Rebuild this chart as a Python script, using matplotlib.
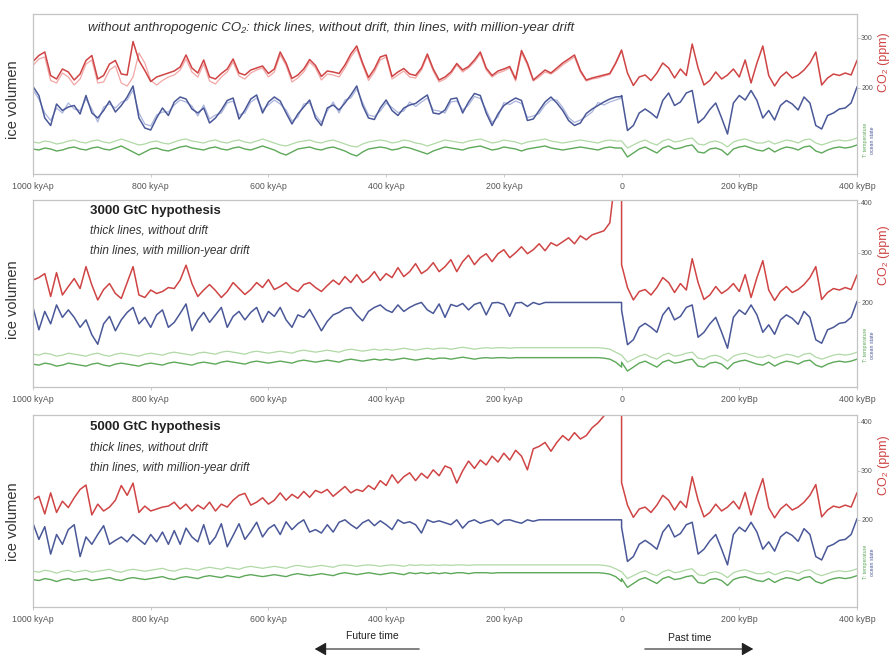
import numpy as np
import matplotlib
matplotlib.use("Agg")
import matplotlib.pyplot as plt

plt.rcParams['font.family'] = ['Liberation Sans Narrow', 'Liberation Sans', 'DejaVu Sans']

# ---------------- data ----------------
# time axis: negative = future (kyr after present), positive = past (kyr before present)
future_kyr = np.arange(-1000, 1, 10)
past_kyr = np.arange(0, 401, 10)

tick_pos = [-1000, -800, -600, -400, -200, 0, 200, 400]
tick_labels = ["1000 kyAp", "800 kyAp", "600 kyAp", "400 kyAp", "200 kyAp", "0", "200 kyBp", "400 kyBp"]

# past (shared by all panels) -- CO2 in ppm, ocean state / temperature in the same plotting units
red_past = [276, 230, 205, 222, 226, 215, 230, 250, 240, 220,
            238, 225, 288, 240, 206, 215, 232, 218, 226, 238,
            222, 256, 210, 250, 284, 225, 204, 222, 232, 220,
            226, 236, 250, 272, 206, 220, 228, 225, 230, 226,
            255]
blue_past = [185, 115, 125, 150, 158, 150, 140, 175, 190, 165,
             172, 190, 195, 130, 140, 157, 170, 140, 108, 170,
             185, 176, 195, 175, 140, 155, 136, 165, 175, 168,
             156, 182, 170, 125, 118, 145, 150, 158, 160, 170,
             202]
green_past = [80, 62, 70, 78, 82, 76, 70, 80, 84, 78,
              80, 84, 86, 72, 70, 78, 80, 76, 66, 78,
              82, 84, 80, 76, 74, 80, 72, 78, 82, 80,
              76, 82, 84, 74, 70, 76, 80, 82, 80, 82,
              86]
green_past_thin = [94, 80, 86, 92, 96, 90, 86, 94, 98, 92,
                   94, 98, 100, 88, 86, 92, 94, 90, 82, 92,
                   96, 98, 94, 90, 90, 94, 88, 92, 96, 94,
                   90, 96, 98, 90, 86, 90, 94, 96, 94, 96,
                   100]

# future without anthropogenic CO2
red_nat = [253, 265, 272, 225, 218, 238, 232, 216, 228, 255,
           265, 218, 225, 248, 255, 228, 226, 293, 255, 235,
           213, 222, 226, 230, 234, 242, 266, 240, 230, 256,
           222, 218, 229, 238, 258, 230, 226, 236, 240, 244,
           229, 238, 272, 250, 219, 226, 238, 257, 245, 223,
           234, 232, 229, 246, 268, 284, 250, 221, 238, 262,
           266, 223, 232, 239, 228, 225, 240, 268, 238, 216,
           222, 232, 249, 236, 243, 256, 272, 240, 225, 234,
           238, 243, 218, 275, 250, 216, 226, 236, 230, 240,
           250, 258, 266, 235, 216, 220, 223, 226, 229, 250,
           276]
red_nat_thin = [245, 258, 262, 215, 210, 230, 222, 206, 218, 248,
                256, 210, 212, 236, 244, 210, 204, 222, 270, 250,
                215, 206, 215, 222, 226, 236, 258, 232, 222, 248,
                214, 208, 222, 232, 252, 224, 218, 230, 236, 240,
                222, 232, 266, 245, 212, 220, 232, 252, 240, 216,
                228, 226, 222, 240, 262, 278, 246, 215, 232, 256,
                262, 218, 226, 234, 222, 220, 236, 264, 234, 212,
                218, 228, 246, 232, 240, 252, 268, 236, 222, 230,
                234, 240, 214, 270, 246, 214, 222, 232, 228, 236,
                246, 254, 262, 232, 214, 218, 220, 224, 227, 248,
                274]
blue_nat = [203, 185, 140, 125, 168, 155, 162, 165, 148, 185,
            150, 140, 155, 174, 152, 165, 182, 204, 140, 120,
            116, 140, 160, 145, 172, 182, 178, 158, 150, 160,
            130, 140, 156, 175, 180, 138, 156, 178, 186, 150,
            172, 182, 174, 150, 128, 148, 162, 176, 140, 125,
            160, 166, 156, 170, 186, 204, 165, 140, 137, 160,
            176, 155, 145, 160, 166, 169, 178, 186, 150, 148,
            156, 178, 180, 150, 172, 189, 185, 150, 125, 148,
            165, 173, 180, 175, 135, 138, 155, 172, 182, 170,
            155, 135, 125, 130, 149, 158, 165, 172, 178, 182,
            183]
blue_nat_thin = [196, 178, 150, 135, 160, 150, 170, 158, 155, 178,
                 158, 132, 162, 168, 160, 172, 176, 196, 150, 128,
                 124, 146, 152, 152, 166, 176, 172, 164, 144, 166,
                 138, 146, 150, 170, 174, 146, 150, 172, 180, 156,
                 166, 176, 168, 156, 134, 142, 168, 170, 146, 131,
                 154, 172, 150, 176, 180, 198, 171, 146, 143, 154,
                 170, 161, 151, 154, 172, 163, 172, 180, 156, 154,
                 150, 172, 174, 156, 166, 183, 179, 156, 131, 142,
                 171, 167, 174, 169, 141, 144, 149, 166, 176, 176,
                 161, 141, 131, 136, 143, 152, 171, 166, 172, 176,
                 180]
green_nat = [78, 76, 80, 78, 74, 76, 80, 82, 78, 76,
             80, 82, 78, 76, 80, 84, 78, 72, 66, 72,
             78, 80, 76, 74, 78, 82, 84, 80, 78, 76,
             80, 82, 78, 76, 80, 82, 78, 76, 80, 84,
             80, 76, 70, 66, 72, 78, 80, 82, 78, 76,
             80, 82, 78, 74, 68, 64, 72, 78, 80, 82,
             80, 76, 78, 82, 80, 76, 72, 68, 74, 78,
             82, 80, 78, 76, 80, 82, 84, 80, 76, 78,
             82, 80, 78, 74, 78, 80, 82, 84, 80, 78,
             76, 78, 80, 82, 80, 78, 76, 80, 82, 80,
             80]
green_nat_thin = [92, 90, 94, 92, 88, 90, 94, 96, 92, 90,
                  94, 96, 92, 90, 94, 98, 94, 90, 86, 88,
                  92, 94, 90, 88, 92, 96, 98, 94, 92, 90,
                  94, 96, 92, 90, 94, 96, 92, 90, 94, 98,
                  94, 90, 86, 84, 88, 92, 94, 96, 92, 90,
                  94, 96, 92, 88, 84, 82, 88, 92, 94, 96,
                  94, 90, 92, 96, 94, 90, 88, 84, 88, 92,
                  96, 94, 92, 90, 94, 96, 98, 94, 90, 92,
                  96, 94, 92, 88, 92, 94, 96, 98, 94, 92,
                  90, 92, 94, 96, 94, 92, 90, 94, 96, 94,
                  94]

# future, 3000 GtC hypothesis
red_3000 = [245, 250, 258, 212, 260, 215, 232, 248, 228, 272,
            235, 205, 226, 238, 218, 208, 240, 272, 215, 210,
            225, 218, 222, 230, 228, 245, 275, 238, 212, 225,
            236, 224, 210, 222, 240, 228, 216, 226, 240, 230,
            246, 226, 232, 240, 228, 222, 236, 240, 230, 222,
            234, 245, 236, 252, 240, 256, 240, 248, 262, 244,
            258, 250, 270, 252, 262, 278, 258, 266, 280, 262,
            272, 286, 262, 282, 295, 276, 290, 298, 282, 298,
            306, 290, 300, 312, 298, 306, 318, 304, 320, 314,
            322, 330, 318, 334, 326, 336, 340, 344, 360, 460,
            480]
blue_3000 = [190, 145, 182, 157, 195, 170, 185, 170, 150, 165,
             135, 116, 157, 172, 143, 165, 180, 190, 157, 170,
             150, 175, 185, 150, 160, 178, 197, 143, 165, 180,
             160, 175, 190, 150, 172, 182, 165, 180, 190, 160,
             182, 172, 190, 165, 150, 175, 170, 186, 165, 143,
             162, 175, 180, 188, 190, 175, 163, 182, 190, 195,
             185, 180, 195, 182, 190, 196, 200, 185, 178, 197,
             170, 196, 192, 198, 185, 196, 200, 175, 199, 200,
             196, 172, 199, 200, 192, 200, 196, 200, 200, 200,
             200, 200, 200, 200, 200, 200, 200, 200, 200, 200,
             200]
green_3000 = [76, 74, 78, 76, 72, 74, 78, 76, 74, 72,
              76, 78, 74, 72, 76, 78, 76, 74, 72, 76,
              78, 76, 74, 78, 80, 78, 76, 74, 78, 80,
              78, 76, 80, 82, 80, 78, 76, 80, 82, 80,
              78, 80, 82, 80, 78, 82, 84, 82, 80, 82,
              84, 82, 80, 84, 86, 84, 82, 84, 86, 84,
              86, 84, 86, 88, 86, 84, 86, 88, 86, 88,
              88, 86, 88, 90, 88, 86, 88, 89, 88, 89,
              89, 88, 89, 89, 89, 89, 89, 89, 89, 89,
              89, 89, 89, 89, 89, 89, 89, 88, 86, 80,
              70]
green_3000_thin = [96, 94, 98, 96, 92, 94, 98, 96, 94, 92,
                   96, 98, 94, 92, 96, 98, 96, 94, 92, 96,
                   98, 96, 94, 98, 100, 98, 96, 94, 98, 100,
                   98, 96, 100, 102, 100, 98, 96, 100, 102, 100,
                   98, 100, 102, 100, 98, 102, 104, 102, 100, 102,
                   104, 102, 100, 104, 106, 104, 102, 104, 106, 104,
                   106, 104, 106, 108, 106, 104, 106, 108, 106, 108,
                   108, 106, 108, 110, 108, 106, 108, 109, 108, 109,
                   109, 108, 109, 109, 109, 109, 109, 109, 109, 109,
                   109, 109, 109, 109, 109, 109, 109, 108, 106, 100,
                   94]

# future, 5000 GtC hypothesis
red_5000 = [241, 248, 212, 255, 215, 238, 225, 245, 262, 271,
            210, 232, 218, 226, 240, 270, 250, 275, 215, 228,
            218, 222, 226, 228, 236, 222, 232, 218, 230, 222,
            236, 218, 232, 226, 240, 250, 254, 230, 236, 245,
            232, 240, 255, 240, 252, 244, 258, 246, 260, 255,
            262, 248, 258, 268, 255, 262, 258, 270, 262, 280,
            270, 292, 275, 288, 296, 280, 295, 285, 302, 290,
            310, 305, 275, 300, 320, 305, 322, 312, 330, 318,
            336, 322, 342, 330, 302, 345, 350, 358, 340, 358,
            372, 362, 378, 365, 372, 388, 398, 412, 440, 480,
            500]
blue_5000 = [193, 160, 186, 130, 170, 150, 180, 190, 125, 165,
             150, 170, 188, 150, 158, 165, 155, 170, 160, 150,
             170, 155, 175, 150, 178, 150, 183, 165, 155, 190,
             150, 165, 192, 145, 168, 192, 160, 176, 195, 165,
             182, 190, 170, 196, 180, 192, 200, 175, 180, 173,
             190, 175, 195, 200, 190, 182, 194, 200, 188, 198,
             190, 180, 200, 193, 196, 190, 173, 200, 195, 198,
             194, 190, 200, 183, 196, 200, 193, 197, 200, 190,
             199, 200, 196, 193, 200, 197, 200, 200, 200, 200,
             200, 200, 200, 200, 200, 200, 200, 200, 200, 200,
             200]
green_5000 = [78, 76, 80, 78, 74, 78, 80, 76, 78, 80,
              76, 78, 80, 82, 78, 76, 80, 82, 80, 78,
              80, 82, 84, 80, 78, 82, 84, 82, 80, 84,
              86, 84, 82, 86, 84, 82, 86, 88, 86, 84,
              86, 88, 86, 84, 88, 90, 88, 86, 88, 90,
              88, 86, 90, 92, 90, 88, 90, 92, 90, 88,
              90, 92, 90, 88, 92, 90, 92, 90, 92, 90,
              92, 90, 92, 92, 90, 92, 92, 92, 91, 92,
              92, 92, 92, 92, 92, 92, 92, 92, 92, 92,
              92, 92, 92, 92, 92, 92, 92, 91, 89, 84,
              74]
green_5000_thin = [95, 93, 97, 95, 91, 95, 97, 93, 95, 97,
                   93, 95, 97, 99, 95, 93, 97, 99, 97, 95,
                   97, 99, 101, 97, 95, 99, 101, 99, 97, 101,
                   103, 101, 99, 103, 101, 99, 103, 105, 103, 101,
                   103, 105, 103, 101, 105, 107, 105, 103, 105, 107,
                   105, 103, 107, 108, 107, 105, 107, 108, 107, 105,
                   107, 108, 107, 105, 108, 107, 108, 107, 108, 107,
                   108, 107, 108, 108, 107, 108, 108, 108, 108, 108,
                   108, 108, 108, 108, 108, 108, 108, 108, 108, 108,
                   108, 108, 108, 108, 108, 108, 108, 107, 105, 100,
                   94]

# ---------------- styling ----------------
RED, RED_T = "#cf4444", "#f2a6a6"
BLUE, BLUE_T = "#4a5898", "#aab4dc"
GREEN, GREEN_T = "#5ea85a", "#b0d9a6"
FRAME = "#c4c4c4"
TXT = "#333333"

fig = plt.figure(figsize=(8.91, 6.56), dpi=100)
W, H = 891.0, 656.0
L, R = 33 / W, 857 / W

def add_ax(top_px, bot_px):
    return fig.add_axes([L, 1 - bot_px / H, R - L, (bot_px - top_px) / H])

all_kyr = np.concatenate([future_kyr, past_kyr])

def joined(fut, past):
    return np.concatenate([np.asarray(fut, float), np.asarray(past, float)])

panels = [
    dict(box=(14, 174), ylim=(28, 348), yt=[200, 300],
         fut=(red_nat, blue_nat, green_nat, green_nat_thin),
         thin=(red_nat_thin, blue_nat_thin)),
    dict(box=(200, 387), ylim=(30, 406), yt=[200, 300, 400],
         fut=(red_3000, blue_3000, green_3000, green_3000_thin), thin=None),
    dict(box=(415, 607), ylim=(22, 414), yt=[200, 300, 400],
         fut=(red_5000, blue_5000, green_5000, green_5000_thin), thin=None),
]

for p in panels:
    ax = add_ax(*p["box"])
    red_f, blue_f, green_f, green_ft = p["fut"]
    # thin lines (with million-year drift)
    ax.plot(all_kyr, joined(green_ft, green_past_thin), color=GREEN_T, lw=0.9)
    if p["thin"] is not None:
        ax.plot(future_kyr, p["thin"][0], color=RED_T, lw=0.9)
        ax.plot(future_kyr, p["thin"][1], color=BLUE_T, lw=0.9)
    # thick lines (without drift)
    ax.plot(all_kyr, joined(green_f, green_past), color=GREEN, lw=1.0)
    ax.plot(all_kyr, joined(blue_f, blue_past), color=BLUE, lw=1.1)
    ax.plot(all_kyr, joined(red_f, red_past), color=RED, lw=1.1)

    ax.set_xlim(-1000, 400)
    ax.set_ylim(*p["ylim"])
    ax.set_xticks(tick_pos)
    ax.set_xticklabels(tick_labels)
    ax.yaxis.tick_right()
    ax.set_yticks(p["yt"])
    ax.set_yticklabels([str(v) for v in p["yt"]])
    ax.tick_params(axis="x", length=2.5, width=0.6, color=FRAME, labelsize=6.3,
                   labelcolor="#555555", pad=3)
    ax.tick_params(axis="y", length=2, width=0.6, color=FRAME, labelsize=5,
                   labelcolor="#555555", pad=1)
    for s in ax.spines.values():
        s.set_color(FRAME)
        s.set_linewidth(0.9)

# ---------------- texts ----------------
def fx(px):
    return px / W

def fy(py):
    return 1 - py / H

fig.text(fx(88), fy(28), "without anthropogenic CO\u2082: thick lines, without drift, thin lines, with million-year drift",
         fontsize=9.5, style="italic", color=TXT, va="center", ha="left")

for (y0, y1, y2), title in [((211, 231, 251), "3000 GtC hypothesis"),
                            ((427, 448, 468), "5000 GtC hypothesis")]:
    fig.text(fx(90), fy(y0), title, fontsize=9.5, weight="bold", color="#222222", va="center")
    fig.text(fx(90), fy(y1), "thick lines, without drift", fontsize=8.5, style="italic", color=TXT, va="center")
    fig.text(fx(90), fy(y2), "thin lines, with million-year drift", fontsize=8.5, style="italic", color=TXT, va="center")

for yc in (100, 300, 522):
    fig.text(fx(13), fy(yc), "ice volumen", rotation=90, fontsize=10.5, color=TXT, ha="center", va="center")

for yc in (62, 255, 465):
    fig.text(fx(884), fy(yc), "CO\u2082 (ppm)", rotation=90, fontsize=9, color=RED, ha="center", va="center")

for yc in (140, 345, 562):
    fig.text(fx(866), fy(yc), "T: temperature", rotation=90, fontsize=3.8, color=GREEN, ha="center", va="center")
    fig.text(fx(872), fy(yc), "ocean state", rotation=90, fontsize=3.8, color=BLUE, ha="center", va="center")

fig.text(fx(372), fy(636), "Future time", fontsize=7.5, color="#222222", ha="center", va="center")
fig.text(fx(690), fy(638), "Past time", fontsize=7.5, color="#222222", ha="center", va="center")
fig.add_artist(matplotlib.patches.FancyArrowPatch(
    (fx(422), fy(649)), (fx(312), fy(649)), transform=fig.transFigure,
    arrowstyle="-|>,head_length=7,head_width=4", color="#222222", lw=0.8))
fig.add_artist(matplotlib.patches.FancyArrowPatch(
    (fx(642), fy(649)), (fx(756), fy(649)), transform=fig.transFigure,
    arrowstyle="-|>,head_length=7,head_width=4", color="#222222", lw=0.8))

fig.savefig("out.png", dpi=100)
